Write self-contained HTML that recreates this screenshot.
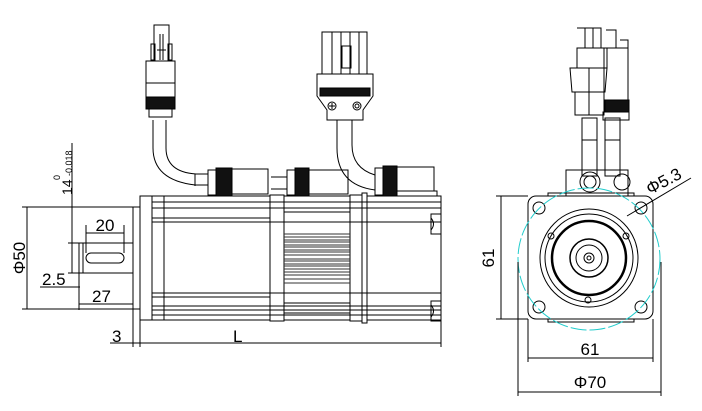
<!DOCTYPE html><html><head><style>body{margin:0;background:#fff}svg{display:block}text{font-family:"Liberation Sans",sans-serif;fill:#000}</style></head><body>
<svg width="702" height="411" viewBox="0 0 702 411" xmlns="http://www.w3.org/2000/svg" fill="none" stroke="#000" stroke-width="1">
<!-- motor body -->
<rect x="140" y="196" width="130" height="124"/>
<rect x="270" y="195" width="14" height="126"/>
<rect x="284" y="196" width="66" height="124"/>
<rect x="350" y="195" width="12" height="126"/>
<rect x="362" y="193" width="5" height="130"/>
<rect x="367" y="196" width="74" height="124"/>
<line x1="152" y1="196" x2="152" y2="320"/><line x1="164" y1="196" x2="164" y2="320"/>
<g>
<path d="M152 202H441M152 208H441M152 218H270M152 222H441M284 212H350M284 222H350M152 293H441M152 297H270M152 306H441M152 310H441M152 315H441M284 303H350M284 313H350"/>
</g>
<g stroke="#333">
<path d="M284 234H350M284 237H350M284 240H350M284 242H350M284 245H350M284 247H350M284 250H350M284 252H350M284 255H350M284 259H350M284 261H350M284 264H350M284 266H350M284 269H350M284 272H350M284 275H350M284 279H350M284 283H350"/>
</g>
<path d="M441 214h-10v20h10M441 301h-10v20h10"/>
<path d="M431 218q5 6 0 12M431 305q5 6 0 12"/>
<!-- pilot + shaft -->
<rect x="133" y="207" width="7" height="102"/>
<rect x="79" y="243" width="54" height="30"/>
<line x1="83" y1="243" x2="83" y2="273"/>
<rect x="86" y="253" width="38" height="10" rx="5"/>
<!-- connectors on body -->
<rect x="208" y="170" width="8" height="25"/><rect x="216" y="168" width="16" height="28" fill="#111"/><rect x="232" y="169" width="36" height="25"/>
<rect x="287" y="170" width="8" height="25"/><rect x="295" y="168" width="14" height="28" fill="#111"/><rect x="309" y="170" width="39" height="24"/>
<path d="M271 177h16M271 189h16"/>
<rect x="375" y="168" width="8" height="27"/><rect x="383" y="166" width="14" height="30" fill="#111"/><rect x="397" y="167" width="37" height="24"/><rect x="397" y="191" width="40" height="5"/>
<!-- cable 1 -->
<path d="M153 120V148Q153 180 195 185H208M166 120V148Q166 172 196 174H208"/>
<path d="M195 174v12"/>
<!-- plug 1 -->
<rect x="146" y="61" width="29" height="40"/><rect x="146" y="97" width="29" height="12" fill="#111"/><rect x="149" y="109" width="23" height="8"/>
<path d="M146 83h29M154 61V25h15v36M157 50h9M160 34v26M163 34v26"/>
<rect x="151" y="44" width="4" height="16"/><rect x="168" y="44" width="4" height="16"/>
<!-- cable 2 -->
<path d="M337 120V148Q337 185 375 190M352 120V145Q352 168 375 175"/>
<!-- plug 2 -->
<rect x="322" y="32" width="45" height="42"/>
<path d="M332 32v42M341 32v42M350 32v42M359 32v42M342 46h9v22h-9z"/>
<path d="M317 74h56v22l-10 14v10h-36v-10l-10-14z"/>
<rect x="320" y="88" width="50" height="8" fill="#111"/>
<circle cx="332" cy="106" r="4"/><path d="M329 106h6M332 103v6"/>
<circle cx="357" cy="106" r="4"/><circle cx="357" cy="106" r="2"/>
<!-- dimensions left -->
<path d="M27 207V309M22 207H133M22 309H133"/>
<text x="25" y="258" font-size="17" transform="rotate(-90 25 258)" text-anchor="middle" stroke="none">Φ50</text>
<path d="M72 143V273M68 243H79M68 273H79"/>
<text x="72" y="195" font-size="14" transform="rotate(-90 72 195)" stroke="none">14</text>
<text x="60" y="180" font-size="9" transform="rotate(-90 60 180)" stroke="none">0</text>
<text x="72" y="176" font-size="9" transform="rotate(-90 72 176)" stroke="none">-0.018</text>
<path d="M86 233H124M86 225V253M124 225V253"/>
<text x="105" y="231" font-size="17" text-anchor="middle" stroke="none">20</text>
<path d="M40 287H80M79 273V310"/>
<text x="42" y="285" font-size="17" stroke="none">2.5</text>
<path d="M79 304H133"/>
<text x="92" y="302" font-size="17" stroke="none">27</text>
<path d="M133 309V347M140 320V347M441 320V347M110 343H441"/>
<text x="112" y="342" font-size="17" stroke="none">3</text>
<text x="233" y="342" font-size="17" stroke="none">L</text>
<!-- right view cables -->
<rect x="582" y="118" width="15" height="58"/><rect x="605" y="118" width="15" height="58"/>
<path d="M582 140h15M605 140h15"/>
<path d="M566 196V170h62v26"/>
<circle cx="590" cy="182" r="10"/><circle cx="590" cy="182" r="6"/><circle cx="622" cy="182" r="8"/>
<path d="M570 68h37l-2 24h-33zM575 92h29v23h-29zM589 68v47"/>
<rect x="577" y="48" width="30" height="20"/><path d="M577 28h24v20M585 28v20M593 28v20"/>
<rect x="604" y="48" width="24" height="52"/><rect x="605" y="100" width="24" height="12" fill="#111"/><rect x="603" y="112" width="26" height="8"/>
<path d="M606 30h10v18M620 40h8v20"/>
<!-- square flange -->
<rect x="528" y="196" width="125" height="123" rx="8"/>
<path d="M548 196v-3h86v3M548 319v3h86v-3"/>
<circle cx="539" cy="208" r="6"/><circle cx="641" cy="208" r="6"/><circle cx="539" cy="307" r="6"/><circle cx="641" cy="307" r="6"/>
<circle cx="589" cy="259" r="71" stroke="#2cc" stroke-dasharray="16 3"/>
<circle cx="589" cy="258" r="49"/><circle cx="589" cy="258" r="44"/>
<circle cx="589" cy="258" r="37" stroke-width="2.5"/>
<circle cx="589" cy="258" r="19" stroke-width="1.5"/><circle cx="589" cy="258" r="13"/><circle cx="589" cy="258" r="5"/><circle cx="589" cy="258" r="2"/>
<circle cx="551" cy="236" r="3"/><circle cx="626" cy="236" r="3"/><circle cx="588" cy="300" r="3"/>
<!-- right dims -->
<path d="M501 196V319M496 196H528M496 319H528"/>
<text x="494" y="258" font-size="17" transform="rotate(-90 494 258)" text-anchor="middle" stroke="none">61</text>
<path d="M528 319V362M653 319V362M528 358H653"/>
<text x="590" y="355" font-size="17" text-anchor="middle" stroke="none">61</text>
<path d="M518 262V396M661 262V396M518 392H661"/>
<text x="590" y="388" font-size="17" text-anchor="middle" stroke="none">Φ70</text>
<path d="M627 216L691 178"/>
<text x="650" y="195" font-size="17" transform="rotate(-28 650 195)" stroke="none">Φ5.3</text>
</svg></body></html>
